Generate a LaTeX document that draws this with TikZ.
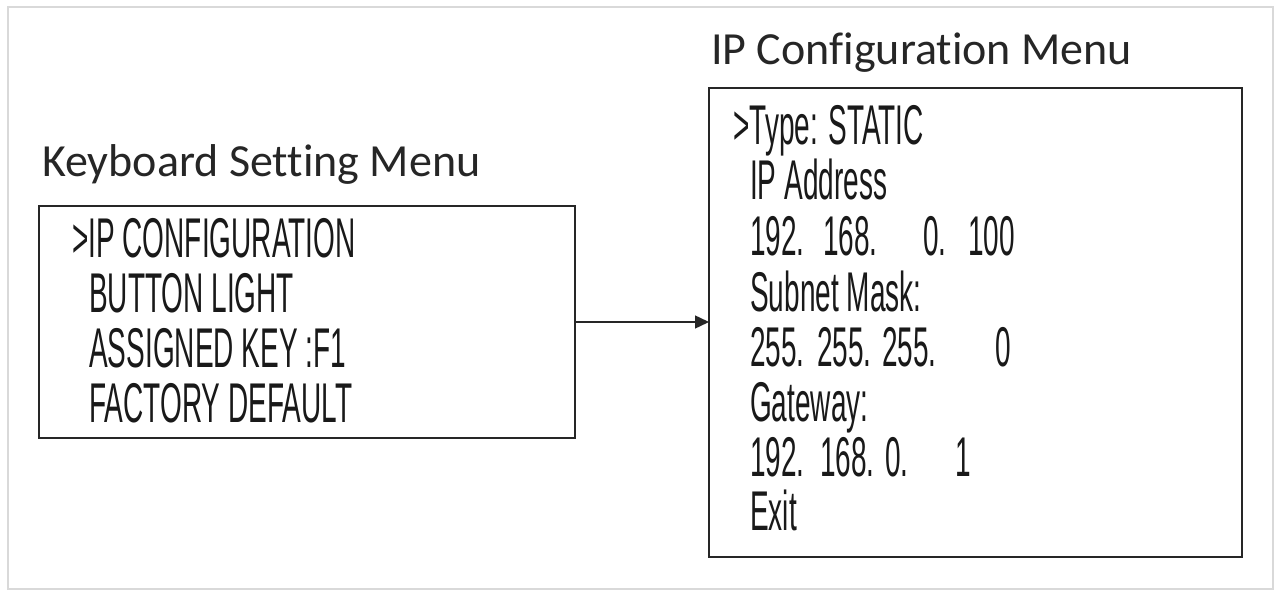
\documentclass[tikz,border=0pt]{standalone}
\usepackage{fontspec}
\setmainfont[Ligatures=NoCommon]{Carlito}
\newfontfamily\lcdfont[FakeStretch=0.5]{Liberation Sans}
\usetikzlibrary{arrows.meta}
\tikzset{
  frame/.style={draw=black!15, line width=2pt},
  menubox/.style={draw=black!85, line width=1.6pt},
  title/.style={anchor=base west, inner sep=0pt, font=\fontsize{46}{52}\selectfont, text=black!85},
  item/.style={anchor=base west, inner sep=0pt, font=\lcdfont\fontsize{56}{60}\selectfont, text=black!90},
  link/.style={draw=black!85, line width=1.4pt, -{Triangle[length=14pt,width=13pt]}}
}
\begin{document}
\begin{tikzpicture}[x=1pt,y=-1pt]
\useasboundingbox (0,0) rectangle (1275,591);
\fill[white] (0,0) rectangle (1275,591);
\draw[frame] (8,7) rectangle (1273,589);

% left menu
\node[title] (t1) at (42,176) {Keyboard Setting Menu};
\draw[menubox] (39,206) rectangle (575,438);
\coordinate (lbR) at (575,322);
\node[item] (l1) at (72,257) {>IP CONFIGURATION};
\node[item] (l2) at (89,312) {BUTTON LIGHT};
\node[item] (l3) at (89,367) {ASSIGNED KEY :F1};
\node[item] (l4) at (89,422) {FACTORY DEFAULT};

% right menu
\node[title] (t2) at (711,65) {IP Configuration Menu};
\draw[menubox] (709,88) rectangle (1242,557);
\coordinate (rbL) at (709,322);
\node[item] (r1) at (733,145) {>Type: STATIC};
\node[item] (r2) at (750,200) {IP Address};
\node[item] (r3a) at (750,255) {192.};
\node[item] (r3b) at (823,255) {168.};
\node[item] (r3c) at (923,255) {0.};
\node[item] (r3d) at (968,255) {100};
\node[item] (r4) at (750,311) {Subnet Mask:};
\node[item] (r5a) at (750,366) {255.};
\node[item] (r5b) at (817,366) {255.};
\node[item] (r5c) at (882,366) {255.};
\node[item] (r5d) at (995,366) {0};
\node[item] (r6) at (750,421) {Gateway:};
\node[item] (r7a) at (750,476) {192.};
\node[item] (r7b) at (820,476) {168.};
\node[item] (r7c) at (885,476) {0.};
\node[item] (r7d) at (955,476) {1};
\node[item] (r8) at (750,530) {Exit};

\draw[link] (lbR) -- (rbL);
\end{tikzpicture}
\end{document}
